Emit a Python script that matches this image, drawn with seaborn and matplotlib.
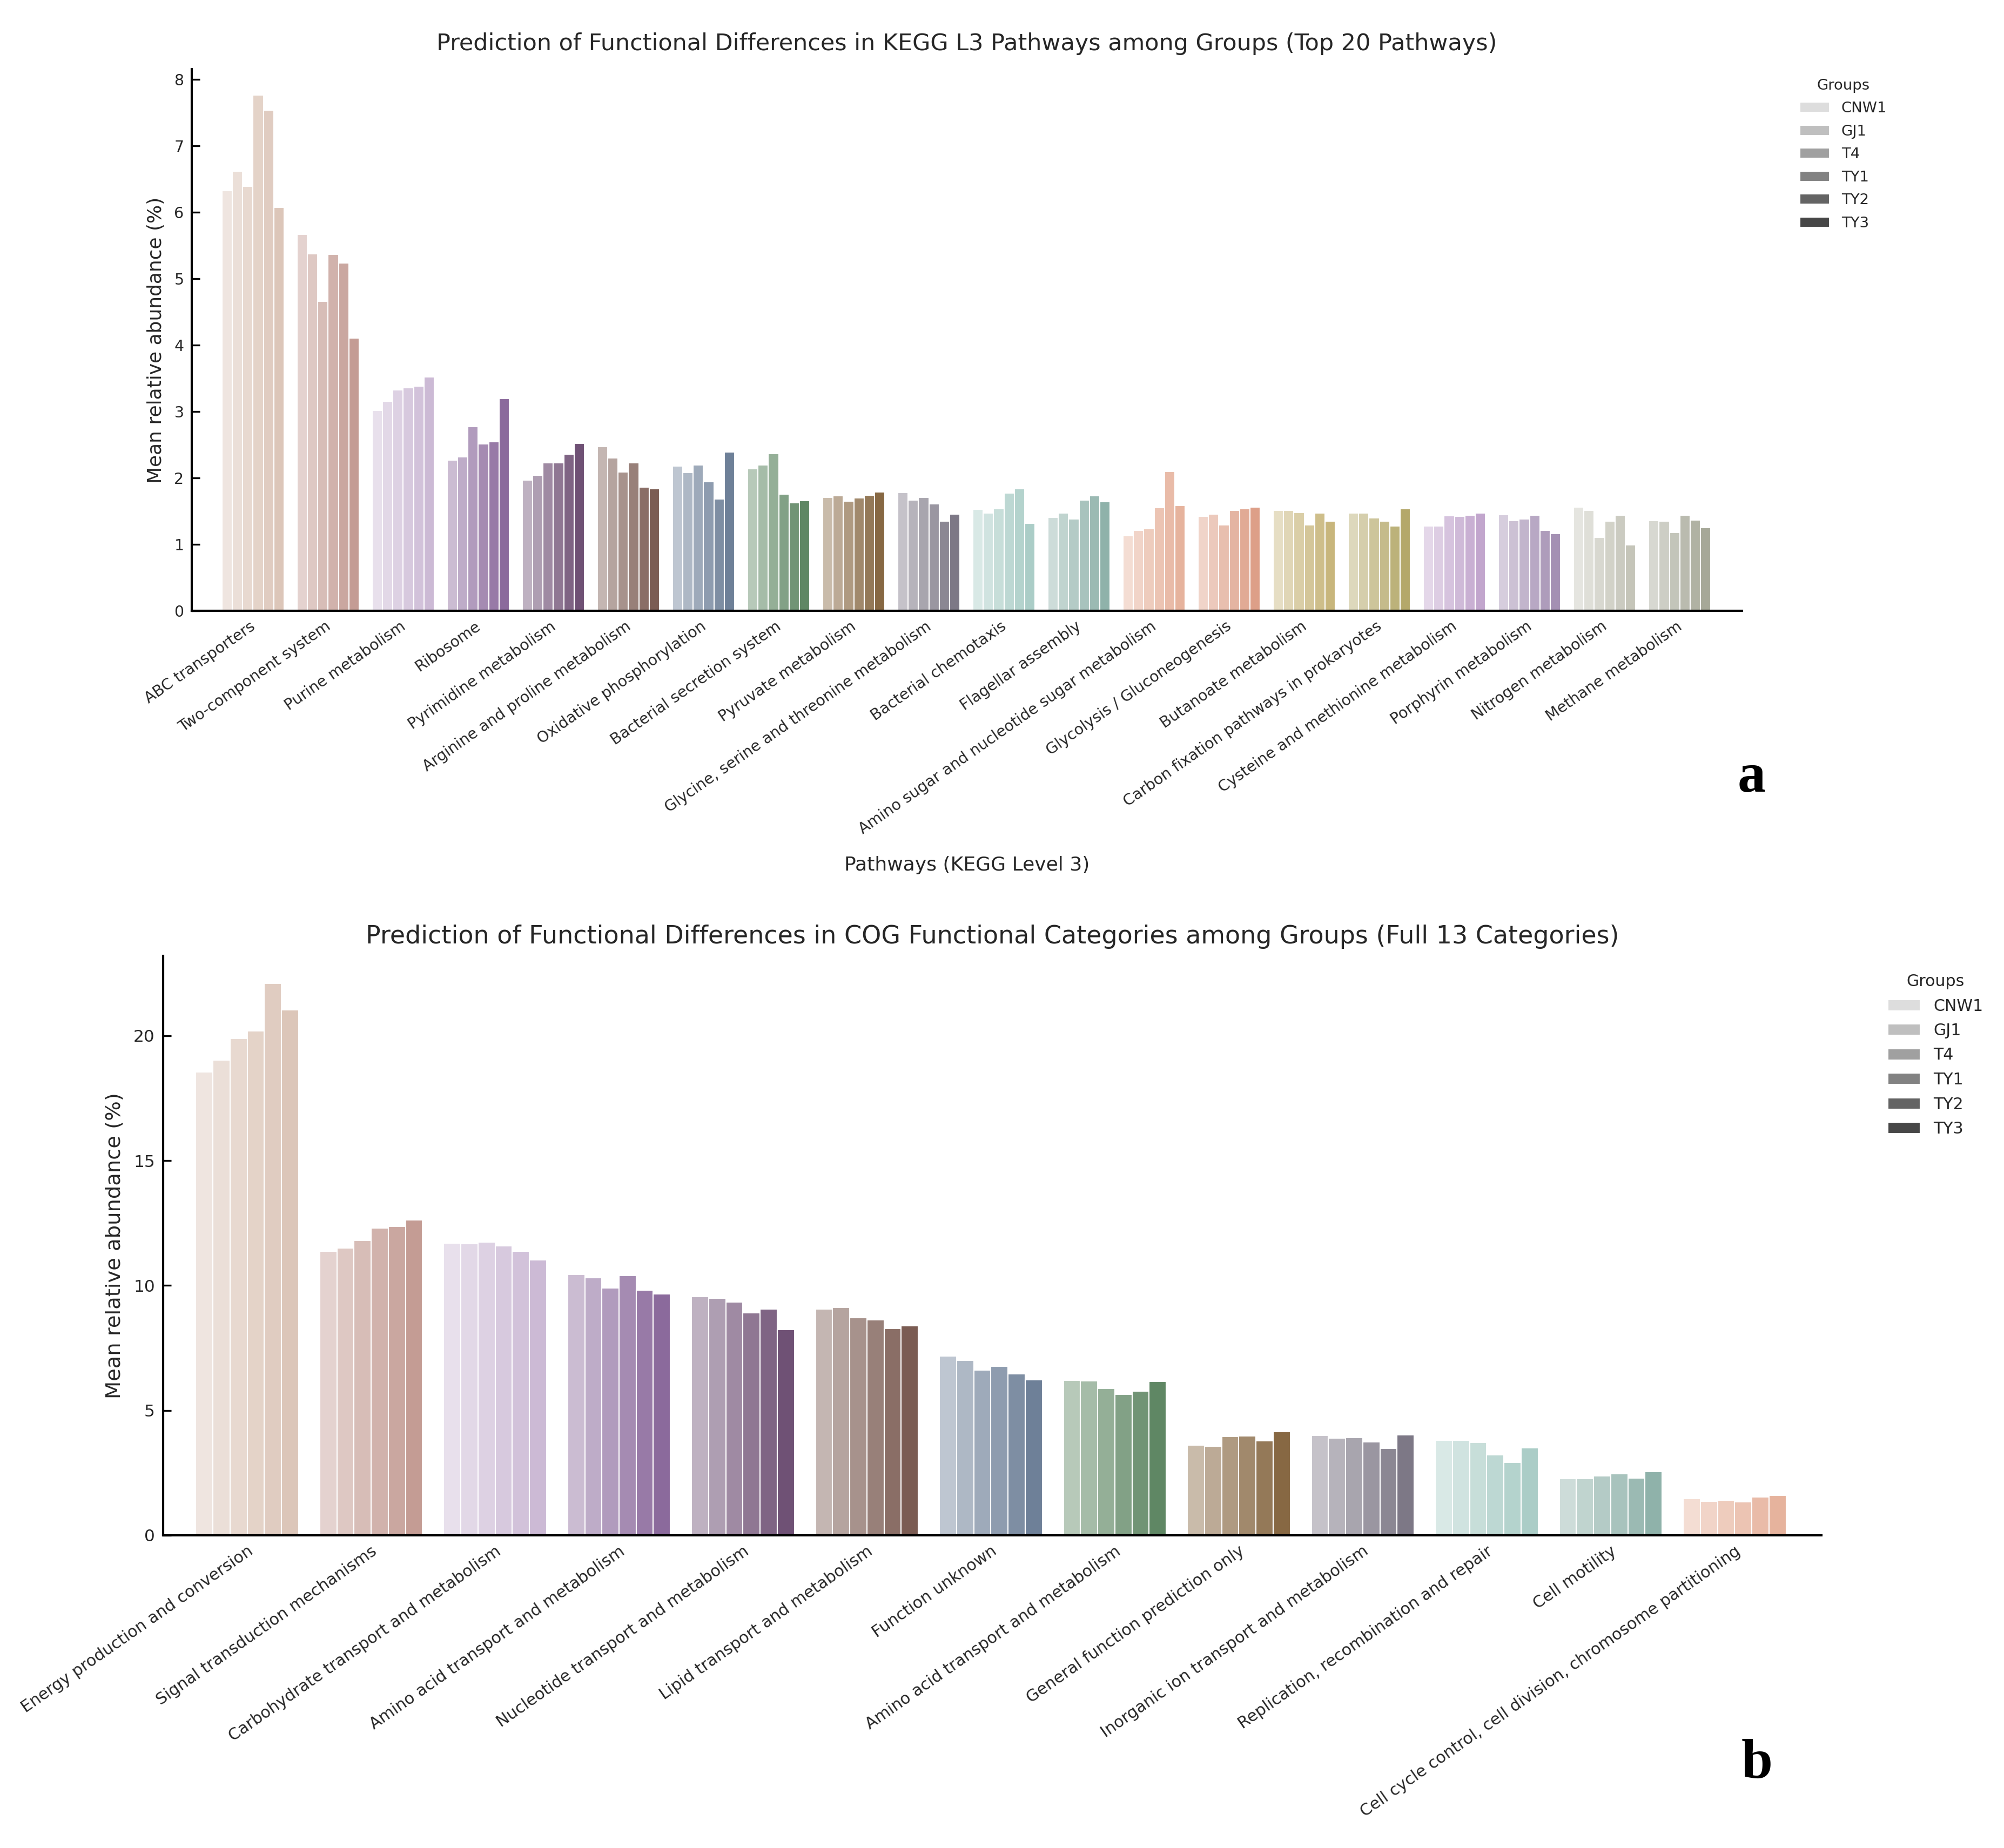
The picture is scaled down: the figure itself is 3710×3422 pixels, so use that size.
import numpy as np
import pandas as pd
import matplotlib
matplotlib.use("Agg")
import matplotlib.pyplot as plt
import seaborn as sns
from matplotlib.colors import to_rgb

# ---------------- data ----------------
GROUPS = ["CNW1", "GJ1", "T4", "TY1", "TY2", "TY3"]
GROUP_GRAYS = ["#dddddd", "#bfbfbf", "#a0a0a0", "#828282", "#646464", "#474747"]

KEGG_PATHWAYS = [
    "ABC transporters", "Two-component system", "Purine metabolism", "Ribosome",
    "Pyrimidine metabolism", "Arginine and proline metabolism", "Oxidative phosphorylation",
    "Bacterial secretion system", "Pyruvate metabolism",
    "Glycine, serine and threonine metabolism", "Bacterial chemotaxis", "Flagellar assembly",
    "Amino sugar and nucleotide sugar metabolism", "Glycolysis / Gluconeogenesis",
    "Butanoate metabolism", "Carbon fixation pathways in prokaryotes",
    "Cysteine and methionine metabolism", "Porphyrin metabolism", "Nitrogen metabolism",
    "Methane metabolism",
]
KEGG_CNW1 = [6.33, 5.67, 3.02, 2.27, 1.97, 2.47, 2.18, 2.14, 1.71, 1.78, 1.53, 1.41, 1.13, 1.42, 1.51, 1.47, 1.28, 1.45, 1.56, 1.36]
KEGG_GJ1 = [6.62, 5.38, 3.16, 2.32, 2.04, 2.30, 2.08, 2.20, 1.73, 1.67, 1.47, 1.47, 1.21, 1.46, 1.51, 1.47, 1.28, 1.36, 1.51, 1.35]
KEGG_T4 = [6.39, 4.66, 3.33, 2.77, 2.23, 2.09, 2.20, 2.37, 1.65, 1.71, 1.54, 1.38, 1.24, 1.29, 1.48, 1.40, 1.43, 1.38, 1.11, 1.18]
KEGG_TY1 = [7.77, 5.37, 3.36, 2.51, 2.23, 2.23, 1.94, 1.76, 1.70, 1.61, 1.77, 1.67, 1.55, 1.51, 1.29, 1.35, 1.42, 1.44, 1.35, 1.44]
KEGG_TY2 = [7.54, 5.24, 3.38, 2.55, 2.36, 1.86, 1.68, 1.63, 1.74, 1.35, 1.84, 1.73, 2.10, 1.54, 1.47, 1.28, 1.44, 1.21, 1.44, 1.37]
KEGG_TY3 = [6.08, 4.11, 3.52, 3.20, 2.52, 1.84, 2.39, 1.66, 1.79, 1.46, 1.32, 1.64, 1.59, 1.56, 1.35, 1.54, 1.47, 1.16, 0.99, 1.25]

COG_CATEGORIES = [
    "Energy production and conversion", "Signal transduction mechanisms",
    "Carbohydrate transport and metabolism", "Amino acid transport and metabolism",
    "Nucleotide transport and metabolism", "Lipid transport and metabolism",
    "Function unknown", "Amino acid transport and metabolism",
    "General function prediction only", "Inorganic ion transport and metabolism",
    "Replication, recombination and repair", "Cell motility",
    "Cell cycle control, cell division, chromosome partitioning",
]
COG_CNW1 = [18.55, 11.38, 11.69, 10.45, 9.55, 9.06, 7.17, 6.20, 3.60, 3.99, 3.80, 2.26, 1.48]
COG_GJ1 = [19.02, 11.50, 11.67, 10.31, 9.48, 9.13, 7.00, 6.18, 3.56, 3.89, 3.80, 2.26, 1.37]
COG_T4 = [19.89, 11.81, 11.73, 9.89, 9.33, 8.71, 6.61, 5.87, 3.96, 3.92, 3.71, 2.37, 1.40]
COG_TY1 = [20.20, 12.31, 11.58, 10.39, 8.91, 8.62, 6.76, 5.65, 3.98, 3.74, 3.23, 2.47, 1.34]
COG_TY2 = [22.09, 12.36, 11.36, 9.81, 9.06, 8.27, 6.46, 5.78, 3.79, 3.48, 2.92, 2.30, 1.53]
COG_TY3 = [21.03, 12.63, 11.02, 9.67, 8.23, 8.39, 6.23, 6.16, 4.15, 4.02, 3.51, 2.55, 1.59]

BASE_COLORS = [
    "#dcc6b9", "#c49c94", "#ccbad5", "#8b6a9c", "#6f5175", "#7b5c53", "#6e8098",
    "#5f8764", "#876843", "#7d7886", "#abcdc7", "#8fb2aa", "#e6b39d", "#dd9f88",
    "#c8b67c", "#b4a86a", "#c2a6cd", "#a490b3", "#c5c5b9", "#a6a898",
]
SHADE_LEVELS = [0.45, 0.56, 0.67, 0.78, 0.89, 1.0]


def shade(base, t):
    r, g, b = to_rgb(base)
    return (1 - t * (1 - r), 1 - t * (1 - g), 1 - t * (1 - b))


# ---------------- style ----------------
sns.set_style("ticks", {"xtick.direction": "in", "ytick.direction": "in"})
plt.rcParams["font.family"] = ["DejaVu Sans"]
plt.rcParams["text.color"] = "#262626"
plt.rcParams["axes.labelcolor"] = "#262626"
plt.rcParams["xtick.color"] = "#000000"
plt.rcParams["ytick.color"] = "#000000"
plt.rcParams["xtick.labelcolor"] = "#262626"
plt.rcParams["ytick.labelcolor"] = "#262626"

W, H, DPI = 3710, 3422, 300
fig = plt.figure(figsize=(W / DPI, H / DPI), dpi=DPI)

ax_top = fig.add_axes([355 / W, 1 - 1131 / H, (3225 - 355) / W, (1131 - 128) / H])
ax_bot = fig.add_axes([301.5 / W, 1 - 2843 / H, (3372 - 301.5) / W, (2843 - 1770) / H])


def draw_panel(ax, labels, series, width, xlim, tick_fs, ytick_fs, rot):
    n = len(labels)
    df = pd.DataFrame({
        "pos": np.tile(np.arange(n), len(GROUPS)),
        "group": np.repeat(GROUPS, n),
        "value": np.concatenate(series),
    })
    sns.barplot(data=df, x="pos", y="value", hue="group", hue_order=GROUPS,
                order=list(range(n)), palette=GROUP_GRAYS, width=width, gap=0,
                dodge=True, errorbar=None, edgecolor="white", linewidth=0.5,
                saturation=1, ax=ax)
    for gi, cont in enumerate(ax.containers):
        for ci, bar in enumerate(cont):
            bar.set_facecolor(shade(BASE_COLORS[ci], SHADE_LEVELS[gi]))
    bw = width / len(GROUPS)
    ax.set_xticks(np.arange(n) + 0.5 * bw)
    ax.set_xticklabels(labels, rotation=rot, ha="right", fontsize=tick_fs)
    ax.tick_params(axis="y", labelsize=ytick_fs)
    ax.tick_params(direction="in", length=3.5, width=0.8)
    ax.set_xlim(*xlim)
    sns.despine(ax=ax)
    for s in ["left", "bottom"]:
        ax.spines[s].set_linewidth(1.0)
        ax.spines[s].set_color("black")


draw_panel(ax_top, KEGG_PATHWAYS,
           [KEGG_CNW1, KEGG_GJ1, KEGG_T4, KEGG_TY1, KEGG_TY2, KEGG_TY3],
           0.825, (-0.816, 19.83), 6.8, 6.8, 35)
draw_panel(ax_bot, COG_CATEGORIES,
           [COG_CNW1, COG_GJ1, COG_T4, COG_TY1, COG_TY2, COG_TY3],
           0.83, (-0.68, 12.70), 7.2, 7.5, 35)

t_top = ax_top.set_title("Prediction of Functional Differences in KEGG L3 Pathways among Groups (Top 20 Pathways)",
                         fontsize=9.6, pad=8.4)
t_bot = ax_bot.set_title("Prediction of Functional Differences in COG Functional Categories among Groups (Full 13 Categories)",
                         fontsize=10.1, pad=5.5)
yl_top = ax_top.set_ylabel("Mean relative abundance (%)", fontsize=8.6)
xl_top = ax_top.set_xlabel("Pathways (KEGG Level 3)", fontsize=8.6, labelpad=8.5)
yl_bot = ax_bot.set_ylabel("Mean relative abundance (%)", fontsize=9.2)
ax_bot.set_xlabel("")

# fit text sizes to the measured widths in the reference
fig.canvas.draw()
r = fig.canvas.get_renderer()
for txt, target, dim in [(t_top, 1967, "w"), (t_bot, 2323, "w"),
                         (yl_top, 530, "h"), (yl_bot, 566, "h"), (xl_top, 454, "w")]:
    bb = txt.get_window_extent(r)
    cur = bb.width if dim == "w" else bb.height
    txt.set_fontsize(txt.get_fontsize() * target / cur)

sns.move_legend(ax_top, "upper left", bbox_to_anchor=(3318 / W, 1 - 132 / H),
                bbox_transform=fig.transFigure, frameon=False, title="Groups",
                fontsize=6.6, title_fontsize=6.6, borderpad=0, labelspacing=0.6,
                handlelength=2.0, handleheight=0.7, handletextpad=0.8)
sns.move_legend(ax_bot, "upper left", bbox_to_anchor=(3480 / W, 1 - 1788 / H),
                bbox_transform=fig.transFigure, frameon=False, title="Groups",
                fontsize=7.2, title_fontsize=7.2, borderpad=0, labelspacing=0.55,
                handlelength=2.0, handleheight=0.7, handletextpad=0.8)

fig.text(3243 / W, 1 - 1466 / H, "a", fontfamily="Liberation Serif", fontweight="bold",
         fontsize=25, ha="center", va="baseline", color="black")
fig.text(3253 / W, 1 - 3292 / H, "b", fontfamily="Liberation Serif", fontweight="bold",
         fontsize=25, ha="center", va="baseline", color="black")

fig.savefig("out.png", dpi=DPI)
